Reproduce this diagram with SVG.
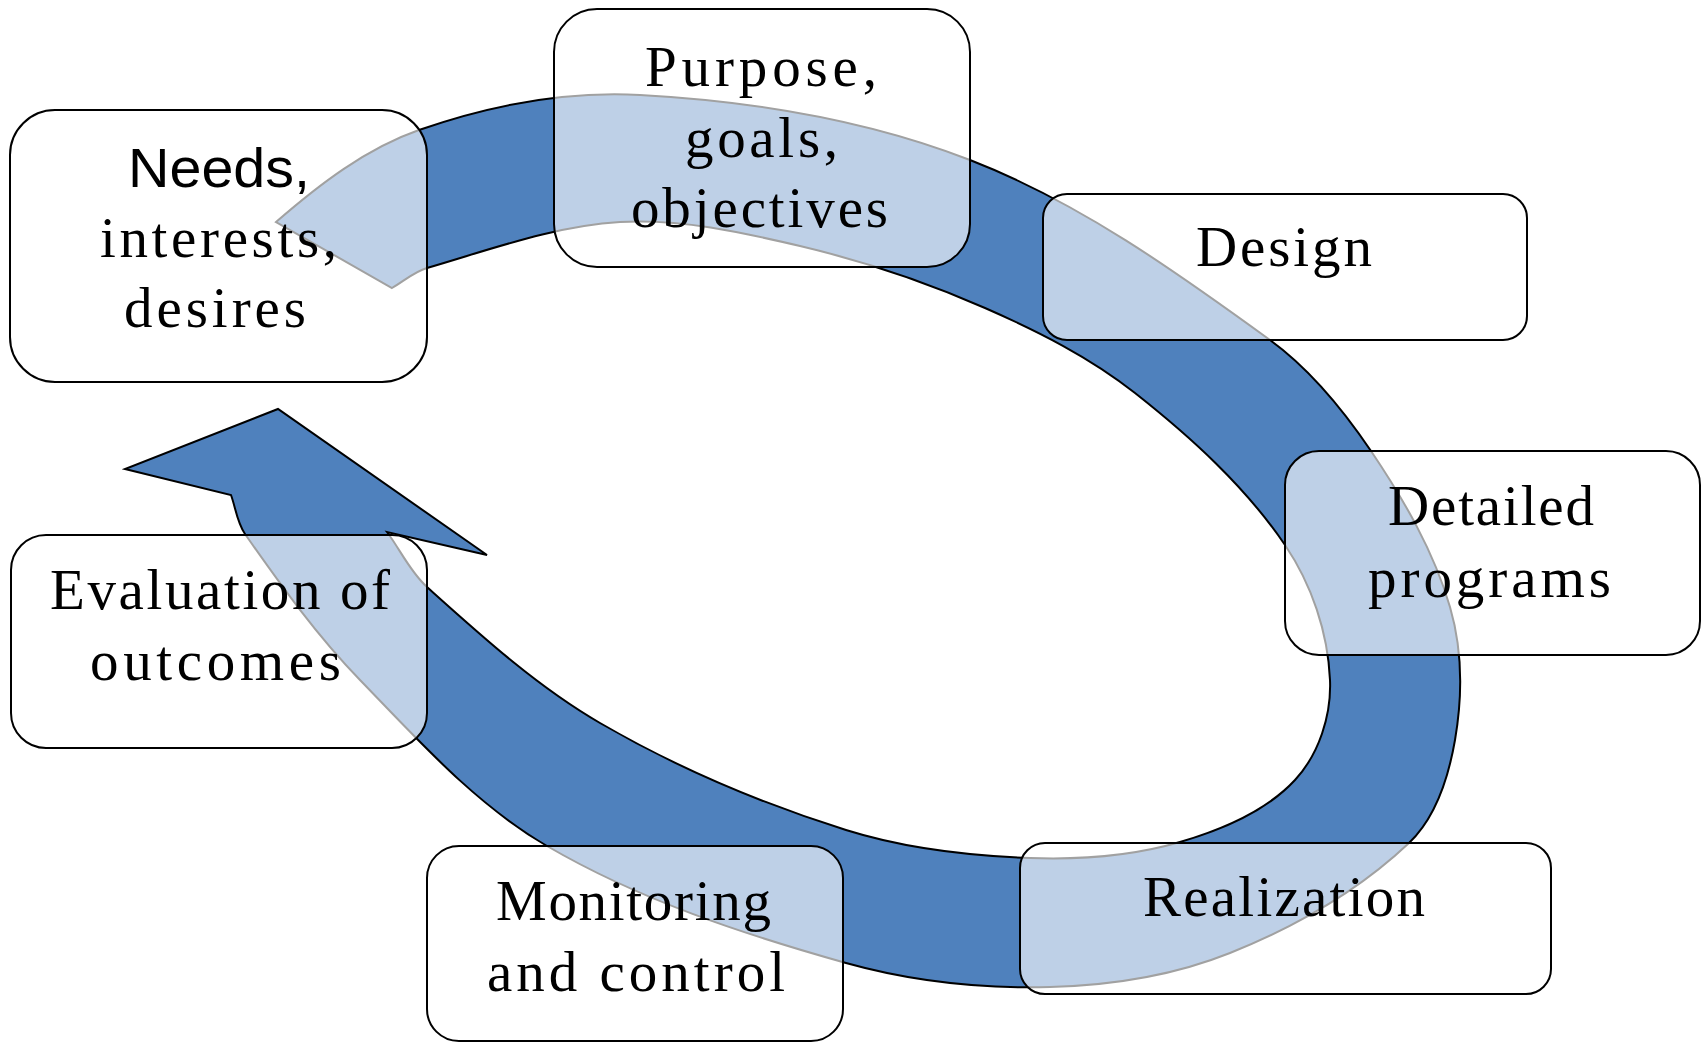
<svg xmlns="http://www.w3.org/2000/svg" width="1705" height="1042" viewBox="0 0 1705 1042">
<style>
.bg{fill:#ffffff}
.arrow{fill:#4F81BD;stroke:#000000;stroke-width:2;stroke-linejoin:miter}
.box{fill:#ffffff;fill-opacity:0.63;stroke:#000000;stroke-width:2}
.t{font-family:"Liberation Serif","Times New Roman",serif;font-size:57px;fill:#000000}
.s{font-family:"Liberation Sans",Arial,sans-serif;font-size:56px;fill:#000000}
</style>
<rect class="bg" x="0" y="0" width="1705" height="1042"/>
<g id="connectors">
<path id="cycle-arrow" class="arrow" d="M276,222 C318.8,184.8 365.5,148.7 419,130 C489.4,105.4 565.5,91 640,95 C752,101.1 865.5,119.4 970,160 C1078.7,202.2 1175.6,271.4 1270,340 C1310.5,369.4 1343,409.5 1371,451 C1403.6,499.3 1433.7,551 1450,607 C1462.4,649.6 1462.5,696.3 1455,740 C1448.6,777 1436.3,817.1 1409,843 C1358.1,891.2 1295,926.9 1230,953 C1173.2,975.8 1111.1,985.4 1050,987 C981.5,988.8 912,981.5 846,963 C743,934.1 639.4,899.9 547,846 C475,804 418,739.9 360,680 C316.8,635.4 280.5,584.8 245,534 C237.1,522.7 235.7,508 231,495 L125,469 L278,409 L487,555 L387,532 C400.6,550.2 410.1,571.8 427,587 C481.6,636 536.6,686.2 600,723 C677.3,767.9 760.7,803.2 846,830 C905.1,848.6 968,855.8 1030,858 C1080.3,859.8 1131.8,856.2 1180,842 C1221.7,829.7 1265.5,811.9 1295,780 C1319,754.1 1331.5,715.3 1330,680 C1328,632.6 1311.6,584.2 1285,545 C1245,486.1 1190.9,437.1 1135,393 C1089.9,357.3 1037.7,331.1 985,308 C925.5,281.9 863.2,260.9 800,246 C741.1,232.1 680.4,218.4 620,222 C554,225.9 490.5,249.6 427,268 C414.1,271.7 403.6,281.4 392,288 Z"/>
</g>
<g id="needs">
<rect class="box" x="10" y="110" width="417" height="272" rx="45" ry="45"/>
<text class="s" x="128" y="187" textLength="182" lengthAdjust="spacingAndGlyphs">Needs,</text>
<text class="t" x="100" y="257" textLength="237" lengthAdjust="spacing">interests,</text>
<text class="t" x="124" y="327" textLength="182" lengthAdjust="spacing">desires</text>
</g>
<g id="purpose">
<rect class="box" x="554" y="9" width="416" height="258" rx="43" ry="43"/>
<text class="t" x="645" y="86" textLength="232" lengthAdjust="spacing">Purpose,</text>
<text class="t" x="685" y="157" textLength="153" lengthAdjust="spacing">goals,</text>
<text class="t" x="631" y="227" textLength="257" lengthAdjust="spacing">objectives</text>
</g>
<g id="design">
<rect class="box" x="1043" y="194" width="484" height="146" rx="24" ry="24"/>
<text class="t" x="1196" y="266" textLength="176" lengthAdjust="spacing">Design</text>
</g>
<g id="detailed">
<rect class="box" x="1285" y="451" width="415" height="204" rx="34" ry="34"/>
<text class="t" x="1388" y="525" textLength="206" lengthAdjust="spacing">Detailed</text>
<text class="t" x="1368" y="597" textLength="243" lengthAdjust="spacing">programs</text>
</g>
<g id="realization">
<rect class="box" x="1020" y="843" width="531" height="151" rx="25" ry="25"/>
<text class="t" x="1143" y="916" textLength="282" lengthAdjust="spacing">Realization</text>
</g>
<g id="monitoring">
<rect class="box" x="427" y="846" width="416" height="195" rx="32" ry="32"/>
<text class="t" x="496" y="920" textLength="275" lengthAdjust="spacing">Monitoring</text>
<text class="t" x="487" y="991" textLength="298" lengthAdjust="spacing">and control</text>
</g>
<g id="evaluation">
<rect class="box" x="11" y="535" width="416" height="213" rx="35" ry="35"/>
<text class="t" x="50" y="609" textLength="340" lengthAdjust="spacing">Evaluation of</text>
<text class="t" x="90" y="680" textLength="251" lengthAdjust="spacing">outcomes</text>
</g>
</svg>
